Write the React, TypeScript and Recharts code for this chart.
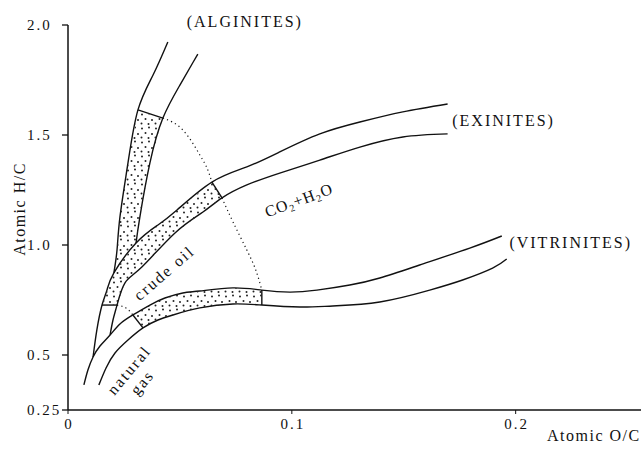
import React from "react";
import { ComposedChart, Line, Scatter, XAxis, YAxis, ReferenceDot, Curve } from "recharts";

type Pt = { x: number; y: number };

// tick values and labels
const xTicks = [0, 0.1, 0.2];
const xTickLabels = ["0", "0.1", "0.2"];
const yTicks = [0.25, 0.5, 1.0, 1.5, 2.0];
const yTickLabels = ["0.25", "0.5", "1.0", "1.5", "2.0"];

// evolution paths, [atomic O/C, atomic H/C]
const alginiteOuter = [
  [0.0205, 0.873], [0.0219, 0.977], [0.0232, 1.127], [0.0268, 1.373],
  [0.03125, 1.614], [0.038, 1.773], [0.0446, 1.923],
];
const alginiteInner = [
  [0.0304, 1.009], [0.0321, 1.127], [0.0366, 1.373], [0.0424, 1.577],
  [0.05, 1.727], [0.058, 1.868],
];
const exiniteUpper = [
  [0.0112, 0.491], [0.0129, 0.614], [0.0152, 0.727], [0.0174, 0.795],
  [0.0205, 0.873], [0.0304, 1.009], [0.0402, 1.091], [0.0487, 1.159],
  [0.0643, 1.286], [0.0799, 1.355], [0.0946, 1.423], [0.1125, 1.505],
  [0.1304, 1.559], [0.1496, 1.605], [0.1696, 1.641],
];
const exiniteLower = [
  [0.0188, 0.591], [0.0201, 0.659], [0.0219, 0.727], [0.0254, 0.827],
  [0.033, 0.9], [0.0478, 1.055], [0.0603, 1.15], [0.0688, 1.214],
  [0.0799, 1.273], [0.0946, 1.327], [0.1125, 1.386], [0.1304, 1.445],
  [0.1496, 1.491], [0.1696, 1.505],
];
const vitriniteUpper = [
  [0.0071, 0.364], [0.0089, 0.432], [0.0112, 0.491], [0.0143, 0.541],
  [0.0188, 0.591], [0.0232, 0.641], [0.029, 0.682], [0.0366, 0.727],
  [0.0433, 0.759], [0.0513, 0.782], [0.0589, 0.791], [0.0737, 0.805],
  [0.0866, 0.795], [0.0991, 0.786], [0.1112, 0.795], [0.1259, 0.818],
  [0.1393, 0.85], [0.1571, 0.909], [0.1795, 0.986], [0.1938, 1.041],
];
const vitriniteLower = [
  [0.0138, 0.364], [0.017, 0.441], [0.021, 0.509], [0.0268, 0.568],
  [0.0335, 0.623], [0.0402, 0.659], [0.0469, 0.682], [0.0589, 0.714],
  [0.0737, 0.732], [0.0866, 0.727], [0.1036, 0.718], [0.1183, 0.723],
  [0.1393, 0.741], [0.1616, 0.795], [0.1763, 0.841], [0.1897, 0.895],
  [0.196, 0.936],
];

// limits of the oil window on each path
const barAlginite = [[0.03125, 1.614], [0.0424, 1.577]];
const barExiniteTop = [[0.0643, 1.286], [0.0688, 1.214]];
const barExiniteBottom = [[0.0152, 0.727], [0.0219, 0.727]];
const barVitriniteLeft = [[0.029, 0.682], [0.0335, 0.623]];
const barVitriniteRight = [[0.0866, 0.795], [0.0866, 0.727]];

// dotted boundary between oil window and CO2+H2O zone
const dottedUpper = [[0.0424, 1.577], [0.0513, 1.523], [0.0589, 1.409], [0.0621, 1.35], [0.0643, 1.286]];
const dottedLower = [[0.0688, 1.214], [0.0737, 1.105], [0.0799, 0.977], [0.0839, 0.886], [0.0866, 0.795]];
const dottedGas = [[0.0219, 0.727], [0.0259, 0.714], [0.029, 0.682]];

const pts = (a: number[][]): Pt[] => a.map(([x, y]) => ({ x, y }));
const slice = (c: number[][], x0: number, x1: number) =>
  pts(c).filter((p) => p.x >= x0 - 1e-6 && p.x <= x1 + 1e-6);

// stippled oil-window bands
const stippleAlginite = [
  ...slice(alginiteOuter, 0.0205, 0.03125).reverse(),
  ...slice(alginiteInner, 0.0304, 0.0424),
];
const stippleExinite = [
  ...slice(exiniteUpper, 0.0152, 0.0643).reverse(),
  ...slice(exiniteLower, 0.0219, 0.0688),
];
const stippleVitrinite = [
  ...slice(vitriniteUpper, 0.029, 0.0866),
  ...slice(vitriniteLower, 0.0335, 0.0866).reverse(),
];

const curves = [alginiteOuter, alginiteInner, exiniteUpper, exiniteLower, vitriniteUpper, vitriniteLower];
const bars = [barAlginite, barExiniteTop, barExiniteBottom, barVitriniteLeft, barVitriniteRight];
const dotted = [dottedUpper, dottedLower, dottedGas];
const stipples = [stippleAlginite, stippleExinite, stippleVitrinite];

const annotations = [
  { text: "(ALGINITES)", x: 0.079, y: 2.016, angle: 0 },
  { text: "(EXINITES)", x: 0.1946, y: 1.568, angle: 0 },
  { text: "(VITRINITES)", x: 0.2246, y: 1.011, angle: 0 },
  { text: "crude oil", x: 0.0429, y: 0.873, angle: -41 },
];

const FONT = "'Liberation Serif', 'DejaVu Serif', serif";
const INK = "#111";

const YTick = (props: any) => {
  const i = yTicks.indexOf(props.payload.value);
  return (
    <text x={27} y={props.y} dy="0.35em" fontFamily={FONT} fontSize={15} letterSpacing={2} fill={INK}>
      {yTickLabels[i]}
    </text>
  );
};

const XTick = (props: any) => {
  const i = xTicks.indexOf(props.payload.value);
  return (
    <text x={props.x + 1} y={429} textAnchor="middle" fontFamily={FONT} fontSize={15} letterSpacing={2} fill={INK}>
      {xTickLabels[i]}
    </text>
  );
};

const textAt = (text: string, angle: number) => (p: any) => (
  <g transform={`translate(${p.cx},${p.cy}) rotate(${angle})`}>
    <text textAnchor="middle" dy="0.35em" fontFamily={FONT} fontSize={16} letterSpacing={2} fill={INK}>
      {text}
    </text>
  </g>
);

const co2Label = (p: any) => (
  <g transform={`translate(${p.cx},${p.cy}) rotate(-20)`}>
    <text textAnchor="middle" dy="0.35em" fontFamily={FONT} fontSize={16} letterSpacing={1} fill={INK}>
      CO<tspan fontSize={10} dy={3}>2</tspan>
      <tspan dy={-3}>+H</tspan>
      <tspan fontSize={10} dy={3}>2</tspan>
      <tspan dy={-3}>O</tspan>
    </text>
  </g>
);

const gasLabel = (p: any) => (
  <g transform={`translate(${p.cx},${p.cy}) rotate(-50)`} fontFamily={FONT} fontSize={16} letterSpacing={2} fill={INK}>
    <text textAnchor="middle" dy="0.35em">natural</text>
    <text textAnchor="middle" x={-1} y={18} dy="0.35em">gas</text>
  </g>
);

export default function App() {
  return (
    <div style={{ position: "absolute", left: 0, top: 0, width: 641, height: 451, background: "#fff" }}>
      <svg width={0} height={0} style={{ position: "absolute" }}>
        <defs>
          <pattern id="stipple" width="14" height="14" patternUnits="userSpaceOnUse">
            <circle cx="2" cy="2.5" r="1" fill="#222" />
            <circle cx="9" cy="1.5" r="1" fill="#222" />
            <circle cx="5.5" cy="7" r="1" fill="#222" />
            <circle cx="12" cy="8" r="1" fill="#222" />
            <circle cx="1.5" cy="11.5" r="1" fill="#222" />
            <circle cx="8.5" cy="12" r="1" fill="#222" />
          </pattern>
        </defs>
      </svg>
      <ComposedChart width={641} height={451} margin={{ top: 25, right: 0, bottom: 0, left: 0 }}>
        <XAxis
          type="number"
          dataKey="x"
          domain={[0, 0.256]}
          ticks={xTicks}
          allowDataOverflow
          height={41}
          tickSize={4}
          tick={<XTick />}
          axisLine={{ stroke: INK, strokeWidth: 1.5 }}
          tickLine={{ stroke: INK }}
          label={{
            value: "Atomic O/C",
            content: () => (
              <text x={547} y={441} fontFamily={FONT} fontSize={16} letterSpacing={1.5} fill={INK}>
                Atomic O/C
              </text>
            ),
          }}
        />
        <YAxis
          type="number"
          dataKey="y"
          domain={[0.25, 2.0]}
          ticks={yTicks}
          allowDataOverflow
          width={68}
          tickSize={6}
          tick={<YTick />}
          axisLine={{ stroke: INK, strokeWidth: 1.5 }}
          tickLine={{ stroke: INK, strokeWidth: 1.3 }}
          label={{
            value: "Atomic H/C",
            content: () => (
              <text
                transform="translate(25,209) rotate(-90)"
                textAnchor="middle"
                fontFamily={FONT}
                fontSize={16}
                letterSpacing={1.5}
                fill={INK}
              >
                Atomic H/C
              </text>
            ),
          }}
        />
        {stipples.map((s, i) => (
          <Scatter
            key={`s${i}`}
            data={s}
            isAnimationActive={false}
            shape={() => <g />}
            line={(p: any) => <Curve points={p.points} type="linearClosed" fill="url(#stipple)" stroke="none" />}
          />
        ))}
        {curves.map((c, i) => (
          <Line
            key={`c${i}`}
            data={pts(c)}
            dataKey="y"
            type="natural"
            stroke={INK}
            strokeWidth={1.4}
            dot={false}
            activeDot={false}
            isAnimationActive={false}
          />
        ))}
        {bars.map((c, i) => (
          <Line
            key={`b${i}`}
            data={pts(c)}
            dataKey="y"
            type="linear"
            stroke={INK}
            strokeWidth={1.4}
            dot={false}
            activeDot={false}
            isAnimationActive={false}
          />
        ))}
        {dotted.map((c, i) => (
          <Line
            key={`d${i}`}
            data={pts(c)}
            dataKey="y"
            type="natural"
            stroke={INK}
            strokeWidth={1.2}
            strokeDasharray="1.2 3.2"
            dot={false}
            activeDot={false}
            isAnimationActive={false}
          />
        ))}
        {annotations.map((a) => (
          <ReferenceDot key={a.text} x={a.x} y={a.y} r={0} ifOverflow="visible" shape={textAt(a.text, a.angle)} />
        ))}
        <ReferenceDot x={0.1031} y={1.2045} r={0} ifOverflow="visible" shape={co2Label} />
        <ReferenceDot x={0.0272} y={0.432} r={0} ifOverflow="visible" shape={gasLabel} />
      </ComposedChart>
    </div>
  );
}
